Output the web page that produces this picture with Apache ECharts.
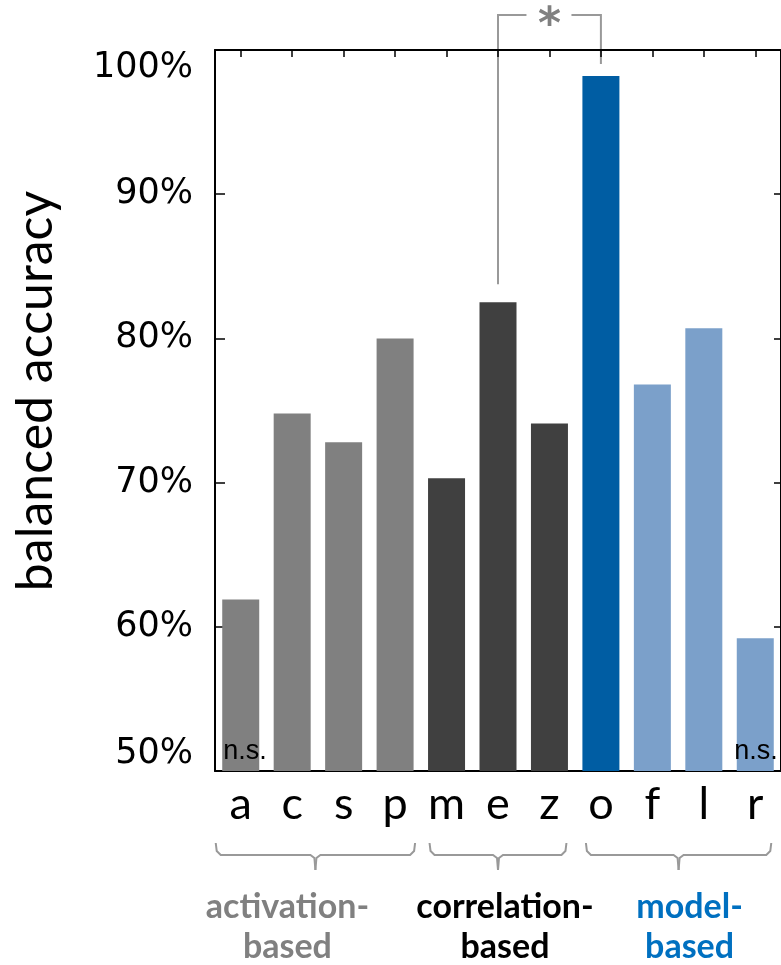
<!DOCTYPE html>
<html>
<head>
<meta charset="utf-8">
<script src="https://cdn.jsdelivr.net/npm/echarts@6.0.0/dist/echarts.min.js"></script>
<style>
  html, body { margin: 0; padding: 0; background: #fff; }
  #main { width: 781px; height: 965px; }
</style>
</head>
<body>
<div id="main"></div>
<script>
// values
var categories = ['a', 'c', 's', 'p', 'm', 'e', 'z', 'o', 'f', 'l', 'r'];
var accuracy = [61.9, 74.8, 72.8, 80.0, 70.3, 82.5, 74.1, 98.2, 76.8, 80.7, 59.2];
var family = ['activation', 'activation', 'activation', 'activation',
              'correlation', 'correlation', 'correlation',
              'model', 'model', 'model', 'model'];
var significance = ['n.s.', '', '', '', '', '', '', '', '', '', 'n.s.'];
var highlighted = 'o';
var comparison = ['e', 'o'];
var comparisonMark = '*';
var groupNames = ['activation-\nbased', 'correlation-\nbased', 'model-\nbased'];
var groupSpans = [[0, 3], [4, 6], [7, 10]];
var yMin = 50, yMax = 100, yStep = 10;

// styles
var familyColor = { activation: '#808080', correlation: '#404040', model: '#7BA0CA' };
var highlightColor = '#005DA3';
var groupTextColor = ['#808080', '#000000', '#0070C0'];
var bracketPad = [[25, 20], [17, 17], [15, 16]];
var groupTextShift = [-28, 7, 11];
var annotGrey = '#999999';

var chart = echarts.init(document.getElementById('main'));

var barData = accuracy.map(function (v, i) {
    var item = {
        value: v,
        itemStyle: { color: categories[i] === highlighted ? highlightColor : familyColor[family[i]] }
    };
    if (significance[i]) {
        var left = i === 0;
        item.label = {
            show: true,
            formatter: significance[i],
            position: left ? 'insideBottomLeft' : 'insideBottomRight',
            distance: 6,
            offset: left ? [-5, 0] : [10, 0],
            fontFamily: 'Liberation Sans',
            fontSize: 27,
            color: '#000'
        };
    }
    return item;
});

var axisLine = { show: true, lineStyle: { color: '#000', width: 2 } };

var option = {
    animation: false,
    grid: { left: 215, right: -2, top: 50, bottom: 194, containLabel: false },
    xAxis: [{
        type: 'category',
        data: categories,
        position: 'bottom',
        axisLine: axisLine,
        axisTick: { show: false },
        axisLabel: { fontFamily: 'Lato', fontSize: 45, color: '#000', margin: 11 }
    }, {
        type: 'category',
        data: categories,
        position: 'top',
        axisLine: axisLine,
        axisTick: { show: true, inside: true, length: 7, alignWithLabel: true, lineStyle: { color: '#000', width: 1.5 } },
        axisLabel: { show: false }
    }],
    yAxis: [{
        type: 'value',
        min: yMin, max: yMax, interval: yStep,
        position: 'left',
        axisLine: axisLine,
        axisTick: { show: true, inside: true, length: 10, lineStyle: { color: '#000', width: 1.5 } },
        splitLine: { show: false },
        axisLabel: {
            formatter: '{value}%',
            fontFamily: 'DejaVu Sans',
            fontSize: 35,
            color: '#000',
            margin: 22,
            verticalAlignMinLabel: 'bottom',
            verticalAlignMaxLabel: 'top'
        }
    }, {
        type: 'value',
        min: yMin, max: yMax, interval: yStep,
        position: 'right',
        axisLine: axisLine,
        axisTick: { show: true, inside: true, length: 7, lineStyle: { color: '#000', width: 1.5 } },
        splitLine: { show: false },
        axisLabel: { show: false }
    }],
    series: [{
        type: 'bar',
        data: barData,
        barWidth: 37,
        xAxisIndex: 0,
        yAxisIndex: 0
    }]
};

chart.setOption(option);

function px(i, v) {
    return chart.convertToPixel({ xAxisIndex: 0, yAxisIndex: 0 }, [i, v]);
}

var graphics = [];

// y-axis title
graphics.push({
    type: 'text',
    x: 36, y: 391,
    rotation: Math.PI / 2,
    style: {
        text: 'balanced accuracy',
        fontFamily: 'Lato', fontSize: 50, fill: '#000',
        textAlign: 'center', textVerticalAlign: 'middle'
    }
});

// significance bracket between the compared bars
var iA = categories.indexOf(comparison[0]);
var iB = categories.indexOf(comparison[1]);
var pA = px(iA, accuracy[iA]);
var pB = px(iB, accuracy[iB]);
var topY = 15;
var midX = (pA[0] + pB[0]) / 2;
graphics.push({
    type: 'polyline',
    shape: { points: [[pA[0], pA[1] - 18], [pA[0], topY], [midX - 23, topY]] },
    style: { stroke: annotGrey, lineWidth: 2, fill: null }
});
graphics.push({
    type: 'polyline',
    shape: { points: [[midX + 22, topY], [pB[0], topY], [pB[0], pB[1] - 12]] },
    style: { stroke: annotGrey, lineWidth: 2, fill: null }
});
graphics.push({
    type: 'text',
    x: midX, y: 27,
    style: {
        text: comparisonMark,
        fontFamily: 'DejaVu Sans', fontSize: 44, fontWeight: 'bold', fill: '#808080',
        textAlign: 'center', textVerticalAlign: 'middle'
    }
});

// group brackets and names under the axis
groupSpans.forEach(function (span, g) {
    var x1 = px(span[0], yMin)[0] - bracketPad[g][0];
    var x2 = px(span[1], yMin)[0] + bracketPad[g][1];
    var nub = (x1 + x2) / 2;
    var yEnd = 843, yBar = 855, yNub = 870;
    graphics.push({
        type: 'polyline',
        shape: { points: [[x1, yEnd], [x1 + 1, yBar - 4], [x1 + 5, yBar], [nub - 5, yBar], [nub - 1, yBar + 3], [nub, yNub]] },
        style: { stroke: annotGrey, lineWidth: 2, fill: null }
    });
    graphics.push({
        type: 'polyline',
        shape: { points: [[x2, yEnd], [x2 - 1, yBar - 4], [x2 - 5, yBar], [nub + 5, yBar], [nub + 1, yBar + 3], [nub, yNub]] },
        style: { stroke: annotGrey, lineWidth: 2, fill: null }
    });
    graphics.push({
        type: 'text',
        x: nub + groupTextShift[g], y: 927,
        style: {
            text: groupNames[g],
            fontFamily: 'Lato', fontSize: 34, fontWeight: 'bold',
            lineHeight: 40,
            fill: groupTextColor[g],
            textAlign: 'center', textVerticalAlign: 'middle'
        }
    });
});

chart.setOption({ graphic: graphics });
</script>
</body>
</html>
